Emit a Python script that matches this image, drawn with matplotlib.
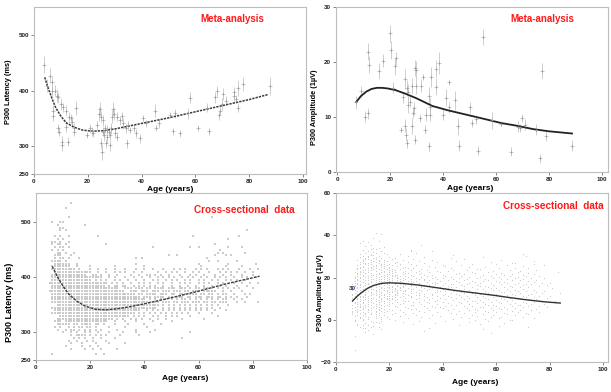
import matplotlib.pyplot as plt

plt.rcParams['font.family'] = ['Liberation Sans', 'DejaVu Sans']
plt.rcParams['font.weight'] = 'bold'

# ---- meta-analysis, P300 latency (age, ms, error half-length) ----
meta_lat_age = [3.8, 5, 6, 6.6, 6.8, 7, 7.2, 7.8, 8.4, 8.8, 9, 9.4, 10, 10.3, 10.5, 10.9,
                11.8, 12, 12.5, 13, 13.8, 14.3, 14.9, 15, 15.6, 19.6, 20.8, 21.6, 22, 23.6,
                24, 24.6, 24.8, 25, 25.2, 25.6, 25.8, 26, 26.4, 26.8, 27, 27.3, 27.8, 28.3,
                28.3, 28.7, 29, 29.3, 29.8, 30, 30.8, 31, 32, 32.6, 33.2, 34.2, 34.5, 35,
                35.7, 37, 38, 39.5, 40.4, 41.7, 44.8, 45.4, 46.3, 50.4, 51.5, 52.5, 54.3,
                57.2, 58, 61, 64.3, 65, 67.4, 68.2, 68.9, 69.2, 69.9, 70.2, 71.3, 74.2,
                74.4, 74.9, 75.8, 76, 77.7, 87.6]
meta_lat_ms = [447, 409, 427, 415, 400, 364, 355, 400, 391, 388, 332, 326, 376, 308, 302, 370,
               364, 335, 308, 352, 350, 344, 332, 326, 369, 320, 332, 327, 323, 338,
               358, 367, 353, 305, 290, 347, 326, 320, 332, 305, 329, 317, 326, 320,
               302, 332, 353, 367, 358, 323, 317, 353, 347, 354, 341, 332, 305, 338,
               329, 332, 323, 314, 350, 341, 364, 333, 341, 356, 327, 359, 323,
               359, 387, 333, 369, 327, 388, 399, 356, 364, 376, 394, 382, 390,
               397, 385, 405, 369, 412, 409]
meta_lat_err = [16, 12, 14, 12, 10, 10, 10, 10, 12, 10, 8, 8, 10, 10, 10, 8,
                10, 10, 8, 10, 8, 10, 10, 8, 12, 6, 8, 8, 6, 8,
                12, 12, 10, 10, 14, 10, 8, 10, 8, 8, 10, 12, 8, 8,
                10, 10, 12, 12, 10, 8, 8, 8, 8, 8, 10, 8, 8, 8,
                6, 6, 8, 8, 6, 6, 12, 6, 8, 6, 6, 8, 6,
                10, 10, 6, 8, 6, 10, 10, 8, 8, 10, 10, 8, 10,
                10, 8, 14, 8, 12, 16]
meta_lat_fit_age = [4, 5, 6, 7, 8, 10, 12, 15, 18, 22, 26, 30, 35, 40, 50, 60, 70, 80, 87]
meta_lat_fit_ms = [424, 408, 395, 382, 370, 354, 342, 334, 329, 327, 328, 331, 336, 341,
                   351, 362, 373, 384, 393]

# ---- meta-analysis, P300 amplitude ----
meta_amp_age = [7.2, 9.1, 10.4, 11.6, 11.7, 12.1, 15.8, 17.5, 20.0, 20.4, 21.0, 21.8, 22.3,
                24.0, 25.0, 25.5, 25.5, 26.0, 26.4, 26.5, 26.8, 26.9, 27.4, 28.2, 28.4,
                28.7, 29.1, 29.4, 29.6, 29.8, 29.9, 31.4, 31.8, 32.5, 33.1, 33.7, 34.6,
                34.8, 35.0, 35.2, 35.4, 37.2, 37.5, 38.6, 40.0, 41.1, 42.1, 42.4, 44.7,
                45.5, 46.2, 50.3, 51.0, 52.5, 53.2, 55.1, 58.4, 61.9, 65.5, 68.2, 69.2,
                69.7, 71.1, 75.0, 76.7, 77.2, 78.9, 88.7]
meta_amp_uv = [12.7, 14.7, 10.0, 10.7, 21.9, 19.5, 18.4, 20.2, 25.2, 22.2, 15.3, 19.2, 20.7,
               7.7, 13.6, 16.9, 8.4, 6.8, 15.3, 5.2, 14.5, 12.2, 12.8, 15.6, 8.4,
               10.8, 11.6, 18.9, 5.9, 18.6, 15.7, 9.8, 15.7, 17.3, 7.7, 10.4, 13.9,
               4.7, 10.4, 11.9, 17.3, 18.8, 15.5, 19.9, 10.4, 13.5, 16.3, 11.8, 13.0,
               8.3, 4.8, 11.8, 8.9, 9.6, 3.9, 24.5, 9.4, 8.8, 3.7, 8.2, 8.0,
               9.8, 8.6, 7.7, 2.5, 18.4, 6.6, 4.8]
meta_amp_err = [1.2, 1.0, 1.0, 1.0, 1.5, 1.5, 1.5, 1.2, 1.6, 1.6, 1.0, 1.5, 1.2,
                0.5, 1.0, 1.8, 1.2, 1.2, 1.5, 0.8, 1.5, 1.5, 1.0, 1.5, 1.5,
                1.0, 1.2, 1.5, 0.8, 1.5, 1.5, 0.8, 1.2, 0.5, 0.8, 1.2, 1.5,
                0.8, 1.2, 1.5, 1.8, 1.5, 1.5, 2.0, 1.0, 1.5, 0.5, 1.0, 1.8,
                1.5, 1.0, 1.0, 0.8, 0.8, 0.8, 1.5, 1.5, 0.5, 0.8, 1.0, 0.8,
                0.8, 1.0, 1.0, 0.8, 1.5, 1.0, 1.0]
meta_amp_fit_age = [7.2, 9, 11, 13, 15, 17, 19, 22, 26, 30, 36, 42, 49, 56, 62, 68, 74, 80, 88.7]
meta_amp_fit_uv = [12.7, 13.8, 14.6, 15.1, 15.3, 15.3, 15.2, 14.9, 14.2, 13.4, 12.0, 11.2,
                   10.4, 9.6, 8.9, 8.4, 7.8, 7.4, 7.0]

# ---- cross-sectional latency: one row per 5 ms level, char index = age, 'o' = subject ----
cs_lat_levels = [535, 525, 510, 500, 495, 490, 485, 475, 470, 465, 460, 455, 450, 445,
                 440, 435, 430, 425, 420, 415, 410, 405, 400, 395, 390, 385, 380, 375,
                 370, 365, 360, 355, 350, 345, 340, 335, 330, 325, 320, 315, 310, 305,
                 300, 295, 290, 285, 280, 275, 270, 260]
cs_lat_rows = [
    ".............o",
    "...........o",
    ".........." "..o......." ".........." ".........." ".........." ".........." ".....o",
    "......o..o" "o",
    "........o." "........o",
    ".........o" "o",
    ".........o" ".o........" ".........." ".........." ".........." ".........." ".........." "........o",
    ".......o.o" "..o......." "...o......" ".........." ".........." "........o." ".........." ".....o",
    "........o." "o........." ".........." ".........." ".........." ".........." ".........." ".o",
    "......oo.o" "..o",
    "......o.oo" ".o........" "......o..." ".........." ".........." ".........." "......o",
    ".......o.o" "o.o......." ".........." ".........." "...o......" ".......o.." "o........." ".o....o",
    "......o.o." "o........." ".........." ".........." ".........." ".........." "........o",
    "........oo" ".o..o....." ".........." ".........." ".........." ".........." ".......o.o" ".......o",
    ".......ooo" "...o......" ".........." ".........." ".........o" "..o......." "......o..." "o.o",
    ".......o.o" "o.o...o..." ".........." ".......o.o" ".........." ".........." "...o",
    "......oooo" ".o........" ".........." ".........." ".........." ".........." "....o..o.." "....o",
    ".......ooo" "ooo..o...." ".........." ".......o.." ".........." ".........." "o........." ".o........" ".o",
    "......oooo" "ooo..o...." "o........o" ".........." "o........." ".........." ".o........" "o.....o",
    "......oooo" "ooooo.o..." "o..o..o..o" "...o...o.." "o..o...o.." ".o.o.o...o" ".o.o...o.o" ".o...o...o" "..o",
    ".......ooo" "oooooooooo" "o..o..o..o" ".o.o..o..o" ".....o..o." "o.o..o..o." "o...o...o." "o.o.o..o.." "o",
    "......oooo" "ooooooooo." ".oo.o..o.." "o....o..o." ".oo.o.o..o" "...o...o.o" "..o...o..o" "..o...o..." "o",
    "......oooo" "oooooooooo" "ooooo..o.o" "...o..o..o" "..o..o.o.o" ".o..o.o.o." ".o.o..o.o." "o..o..o.o." ".o",
    "......oooo" "oooooooooo" "o.o.o.o..o" ".o..o..o.." "o..o.o..o." "o.o..o.o.." "o.o..o.o.." "o.o.o..o",
    ".....ooooo" "oooooooooo" "ooooooo.o." "o.o..o..o." "o.o..o.o.." "o..o.o.o.." "o.o.o..o.o" "...o..o..o" "..o",
    "......oooo" "oooooooooo" "oooooo.o.o" "o.oo..o.o." "o.o.o..o.." "o..o..o..o" "..o..o..o." "o...o...o",
    "......oooo" "oooooooooo" "oooooooooo" "o..ooo.ooo" ".oo.oooo.o" "oo.ooo.o.o" "o.oo.o.o.o" ".o.o.o...." "o",
    ".....ooooo" "oooooooooo" "oooooooooo" "ooo..ooo.o" "oo.ooo.ooo" ".ooo.oo.oo" "o.ooooo..o" "..o...o",
    "......oooo" "oooooooooo" "oooooooooo" "ooooooo.oo" ".oooo.ooo." "oo.ooo.ooo" ".oo.oo.o.o" "o..o...o.o",
    "......oooo" "oooooooooo" "oooooooooo" "ooooooooo." "ooo.oooo.o" "o.ooo.oo.o" "oo.ooo.oo." "o.o.o...o",
    "......oooo" "oooooooooo" "oooooooooo" "oooooooooo" "o.o.o.o.o." "o.o.oo.o.o" ".o.o.o.o.o" "o..o..o",
    "......oooo" "oooooooooo" "oooooooooo" "oooooooooo" "ooo.oo.ooo" ".oo.ooo.oo" "o.oo.oo.oo" "o...o..o.." "..o",
    "........oo" "oooooooooo" "oooooooooo" "oooooooooo" "oooooo.o.o" ".o.o.o.o.o" ".o.o.o.o.." ".o",
    "......oooo" "oooooooooo" "oooooooooo" "oooooooooo" "ooooo..o.o" ".o.o.o.o.o" ".o.o.o..o",
    ".......ooo" "oooooooooo" "oooooooooo" "ooooooooo." ".o.o.o.o.o" ".o.o.o.o.o" ".o.o..o..." "o",
    "......oooo" "oooooooooo" "oooooooooo" "ooooooo.o." "o.o.o.o.o." "o.o.o.o..." "o....o",
    ".........o" "oooooooooo" "oooooooooo" "ooooo.o.o." "o..o.o..o." "o.o....o.." ".......o",
    "........oo" "oooooooooo" "ooooooooo." "o.o..o.o.o" "..o..o..o." "....o....." "..o",
    ".......ooo" ".ooooooooo" "ooooooo..o" "...o...o.." "...o......" "o",
    "........oo" "ooo.oo.ooo" "o.oo.o...o" "....o....." "o.....o",
    ".......o.o" "..o.o.oo.o" "o.o....o.." "...o......" ".o",
    "........o." ".o.oo.o.o." "o.o.o....." "o......o.." "....o",
    ".........." "o..o.o..o." "o..o...o.." "..o....o.." "..o......." ".......o",
    ".........." "...o.oooo." "o.o.o.o..." ".o......o",
    ".........." "....o.o.o." ".o..o....o" ".........." ".........." "....o",
    ".........." "..o..o...o" ".o....o",
    ".........." "...o...o.." "..o....o.." "...o",
    ".........." ".o.....o.." "o..o",
    ".........." "...o....o." ".o..o....." "o",
    "......o..." ".........." "..o..o",
]

cs_lat_fit_age = [6, 7, 8, 10, 12, 15, 18, 22, 26, 30, 35, 40, 50, 60, 70, 82.5]
cs_lat_fit_ms = [420, 410, 400, 384, 370, 357, 348, 342, 341, 343, 347, 352, 363, 375, 388, 402]

# ---- cross-sectional amplitude: one row per 1 uV level, char index = age, digit = tenths above level ----
cs_amp_levels = [41, 40, 38, 37, 36, 35, 34, 33, 32, 31, 30, 29, 28, 27, 26, 25, 24, 23, 22, 21,
                 20, 19, 18, 17, 16, 15, 14, 13, 12, 11, 10, 9, 8, 7, 6, 5, 4, 3, 2, 1, 0,
                 -1, -2, -3, -4, -5, -6, -7, -8, -15]
cs_amp_rows = [
    ".........." ".....3",
    ".........." ".......6",
    ".........." "....7",
    ".........." "5.....1",
    ".........4" "..7",
    ".........." "...4......" ".........." "..3",
    ".........." ".8..2...6.",
    ".........." "1..5.39..." "........2",
    ".........." "..6.2..4.." "........7." "......5",
    ".........3" ".7.1.5..8." "....2....." "6........." ".........." ".........." ".........." "1",
    ".........." "4.285.1..9" ".......3.." ".........." "....8....." ".........." ".........." ".2",
    ".........6" ".37.18.4.." "5.2......." "...9......" "...3......" ".....7",
    "........5." "2964.81.3." ".7...4...8" "......2..." "........6." ".........." "..1",
    ".........4" "81.5927.36" "...2...5.." ".9......3." ".....7...." "........4." ".......1.." "....6",
    ".........2" "7395.1846." "3.8.5...2." "...7......" "1........." ".6........" "5.....9..." "....3",
    "........71" "4.8263.957" "27.4..1..." "8....5...." ".3.....8.." "......2..." "....7....." "4.......9",
    "........36" "8157.4293." "61...5.3.7" "..2....8.." "...4......" "9...1....." ".6.....3.." "..5",
    "........92" "5.7481.639" "417.8.2.6." ".3..5...1." "....7....4" "...8.....2" ".....6...3" ".....7",
    ".......418" "7253.9164." "827..4.1.." "6.3..7...5" "..9...2..." ".4.....8.." "..1.....5." "..3......." "...6",
    "........57" "19.4368.25" "7143.69.2." ".8.4..1..." "3....7..5." "..9..2...." "6..4..8..." "1...7",
    ".......372" "5194.82617" "38527.61.5" "..4.7..3.." ".6.2...8.." "4...1...6." ".3...7..2." ".5....8",
    ".......816" "3.72594138" "26.7183.4." "95.2..6.1." "7...3.8..4" "...6..1..9" "..5.2..7.." "3..8....6",
    ".......295" "1683.74259" "361847.52." "4..9.6.1.3" "..7..2..8." ".5...3.9.." "4..1..7..6" "..2..8",
    ".......641" "9257.83164" "2938516.47" ".2..9.5.3." ".6.1..8..." "4.7.2...5." ".9..3...6." ".1..8..4.." "2",
    "......7384" "1592637.48" "5173926849" "..16.3.8.." "5.2.7..4.9" "...6..1..3" "..8..2.7.." "4..9.....5",
    "......2956" "8147.39526" "471836.29." "5.3.8.1..6" ".2.7.4..9." ".3..8..5.." "1..6..4..7" "..3...8",
    "......5183" "62947158.3" "84619.2.75" ".3.8.4..1." "6.9...3.5." "2..7.4..8." ".1..6..3.." "7...2....." ".9",
    "......9.42" "7351.86294" "1572948.6." "3.5.9..2.7" ".4..8..1.6" "..3...5..9" "..2..7..4." ".6...1..8",
    "......3715" "92.6483715" "4926.83.5." ".7.1..4.9." ".2.6.3..8." ".5..1..7.." "4..9..2..6" "...3...8.." "....5",
    "......6294" "1837.52964" "3185.2.74." "96.2..8.3." "5.1...7..4" "..9..3..6." ".2..8..5.." "1.7...4..." "3",
    "......4827" "96153.8472" "519.6.3.8." ".4..7.2..5" "...9.1.6.." "3..8..2..7" "..5..4..1." ".9..6....3",
    "......1.69" "4725.83916" "2748.5.1.." "6..3.9..2." ".8..4...7." ".1..5..9.." "3..6..2..8" "..4..7...." "..1",
    "......7359" "2.6418379." "51.4..8..2" ".6..3..9.." "5.1...4..8" "..7..2..6." ".3..9..1.." "5...4..7",
    "......2846" "915.73628." "4...38..1." "..6..9..4." "...2...7.." "3..8..5..1" "..9..6..2." ".7.4....6",
    "......9153" "7.48261.59" "3.7...2..8" "...5..4..1" ".6...9..3." ".7..2..8.." "4..1..6..9" "..5...3",
    "......6.28" "4917.5362." "1..8...4.." "2...7..9.." "5...3....6" "..1..8..4." ".7..2..5.." "9....3...8",
    "......3715" "9.48.263.1" ".7..5...9." ".2...6...." "..8...3..." "4..7..1..5" "..9...2..6" "...8",
    "......5.92" "6384.71.5." "..3..8...2" "...6....9." "...4....1." "..7....5.." "8..2....6." ".3....9",
    "......8.4." "27.9.61.3." ".5....7..." "4.....2..." ".....8...." ".3...6...1" "....9..4.." "..7",
    ".......6.3" ".84..7.2.5" "....9....." "..1......6" ".......3.." "...8....4." "..2......." "5",
    ".......1.7" "5.2..9.4.." "3......8.." ".....6...." "....2....." "7.....4..." ".9...1...." "....6",
    ".......4.." "8..3.1.6.." "..7......." ".5........" ".2........" "..9....3.." "......8",
    "........2." ".6..9.4..." ".....7...." ".......3.." ".........." "8...1....." "...5",
    "........5." "3.7.1....." ".........8" ".........." "......4..." ".........." ".2",
    ".........6" ".2.8..4..." ".........." ".....1...." ".........." ".........." ".........." "..7",
    ".........." "9.3....5.." ".........." ".........." ".........." ".....6",
    ".........." ".4........" ".........." "...8",
    ".........." "....2....." ".........." ".........." ".........." "........5",
    ".......3",
    ".......7",
]

cs_amp_fit_age = [6.2, 8, 10, 12, 14, 17, 20, 25, 31, 37, 45, 50, 59, 65, 71, 78, 84]
cs_amp_fit_uv = [8.9, 11.2, 13.3, 15.0, 16.2, 17.2, 17.5, 17.2, 16.4, 15.3, 13.8, 13.0, 11.6,
                 10.5, 9.5, 8.5, 7.9]

W, H = 611, 392


def box(l, t, r, b):
    return [l / W, 1 - b / H, (r - l) / W, (b - t) / H]


def style(ax, xlim, ylim, yticks):
    ax.set_xlim(xlim)
    ax.set_ylim(ylim)
    ax.set_xticks([0, 20, 40, 60, 80, 100])
    ax.set_yticks(yticks)
    for s in ax.spines.values():
        s.set_color('#bdbdbd')
        s.set_linewidth(0.8)
    ax.tick_params(direction='out', length=2, width=0.5, color='#555555', pad=1.5,
                   labelsize=4.5, labelcolor='#222222')
    for lab in ax.get_xticklabels() + ax.get_yticklabels():
        lab.set_fontweight('bold')


def ftext(x, y, s, **kw):
    fig.text(x / W, 1 - y / H, s, ha='center', va='center', fontweight='bold', **kw)


def unpack_lat(levels, rows):
    ages, vals = [], []
    for lev, row in zip(levels, rows):
        for i, ch in enumerate(row):
            if ch == 'o':
                ages.append(i)
                vals.append(lev)
    return ages, vals


def unpack_amp(levels, rows):
    ages, vals = [], []
    for lev, row in zip(levels, rows):
        for i, ch in enumerate(row):
            if ch.isdigit():
                ages.append(i)
                vals.append(lev + int(ch) / 10)
    return ages, vals


fig = plt.figure(figsize=(6.11, 3.92), dpi=100)

# top left
ax1 = fig.add_axes(box(34, 7, 306, 174))
ax1.errorbar(meta_lat_age, meta_lat_ms, yerr=meta_lat_err, fmt='+', ms=2.2, mew=0.4,
             color='#9a9a9a', ecolor='#bcbcbc', elinewidth=0.5, capsize=0)
ax1.plot(meta_lat_fit_age, meta_lat_fit_ms, color='#3a3a3a', lw=1.1, ls=(0, (1.5, 0.7)))
style(ax1, (0, 101.1), (250, 550.5), [250, 300, 400, 500])

# top right
ax2 = fig.add_axes(box(336, 7, 608, 172))
ax2.errorbar(meta_amp_age, meta_amp_uv, yerr=meta_amp_err, fmt='+', ms=2.2, mew=0.4,
             color='#9a9a9a', ecolor='#bcbcbc', elinewidth=0.5, capsize=0)
ax2.plot(meta_amp_fit_age, meta_amp_fit_uv, color='#222222', lw=1.3)
style(ax2, (-0.4, 102.3), (0, 30), [0, 10, 20, 30])

# bottom left
ax3 = fig.add_axes(box(36, 193, 307, 360))
a3, v3 = unpack_lat(cs_lat_levels, cs_lat_rows)
ax3.scatter(a3, v3, s=0.6, marker='s', color='#cbcbcb', linewidths=0)
ax3.plot(cs_lat_fit_age, cs_lat_fit_ms, color='#3a3a3a', lw=1.0, ls=(0, (2, 0.8)))
style(ax3, (0, 100), (250, 553), [250, 300, 400, 500])

# bottom right
ax4 = fig.add_axes(box(336, 193, 608, 362))
a4, v4 = unpack_amp(cs_amp_levels, cs_amp_rows)
ax4.scatter(a4, v4, s=0.7, marker='o', color='#c8c8c8', linewidths=0)
ax4.plot(cs_amp_fit_age, cs_amp_fit_uv, color='#333333', lw=1.0)
ax4.text(6.2, 14.8, '30', fontsize=4.5, color='#1f2f5f', ha='center', va='center')
style(ax4, (0, 101.9), (-20, 60), [-20, 0, 20, 40, 60])

# titles
red = '#ff1a1a'
ftext(232.5, 19.5, 'Meta-analysis', fontsize=7, color=red)
ftext(542.7, 19.5, 'Meta-analysis', fontsize=7, color=red)
ftext(244, 210, 'Cross-sectional  data', fontsize=7.2, color=red)
ftext(553, 206, 'Cross-sectional  data', fontsize=7.2, color=red)

# axis labels
ftext(8.5, 92, 'P300 Latency (ms)', fontsize=5.3, rotation=90)
ftext(170, 190, 'Age (years)', fontsize=6)
ftext(315, 107, 'P300 Amplitude (1µV)', fontsize=5.3, rotation=90)
ftext(470, 188, 'Age (years)', fontsize=6)
ftext(10, 302, 'P300 Latency (ms)', fontsize=6.5, rotation=90)
ftext(185, 378, 'Age (years)', fontsize=6)
ftext(320, 293, 'P300 Amplitude (1µV)', fontsize=5.4, rotation=90)
ftext(475, 382, 'Age (years)', fontsize=6)

fig.savefig('out.png', dpi=100)
